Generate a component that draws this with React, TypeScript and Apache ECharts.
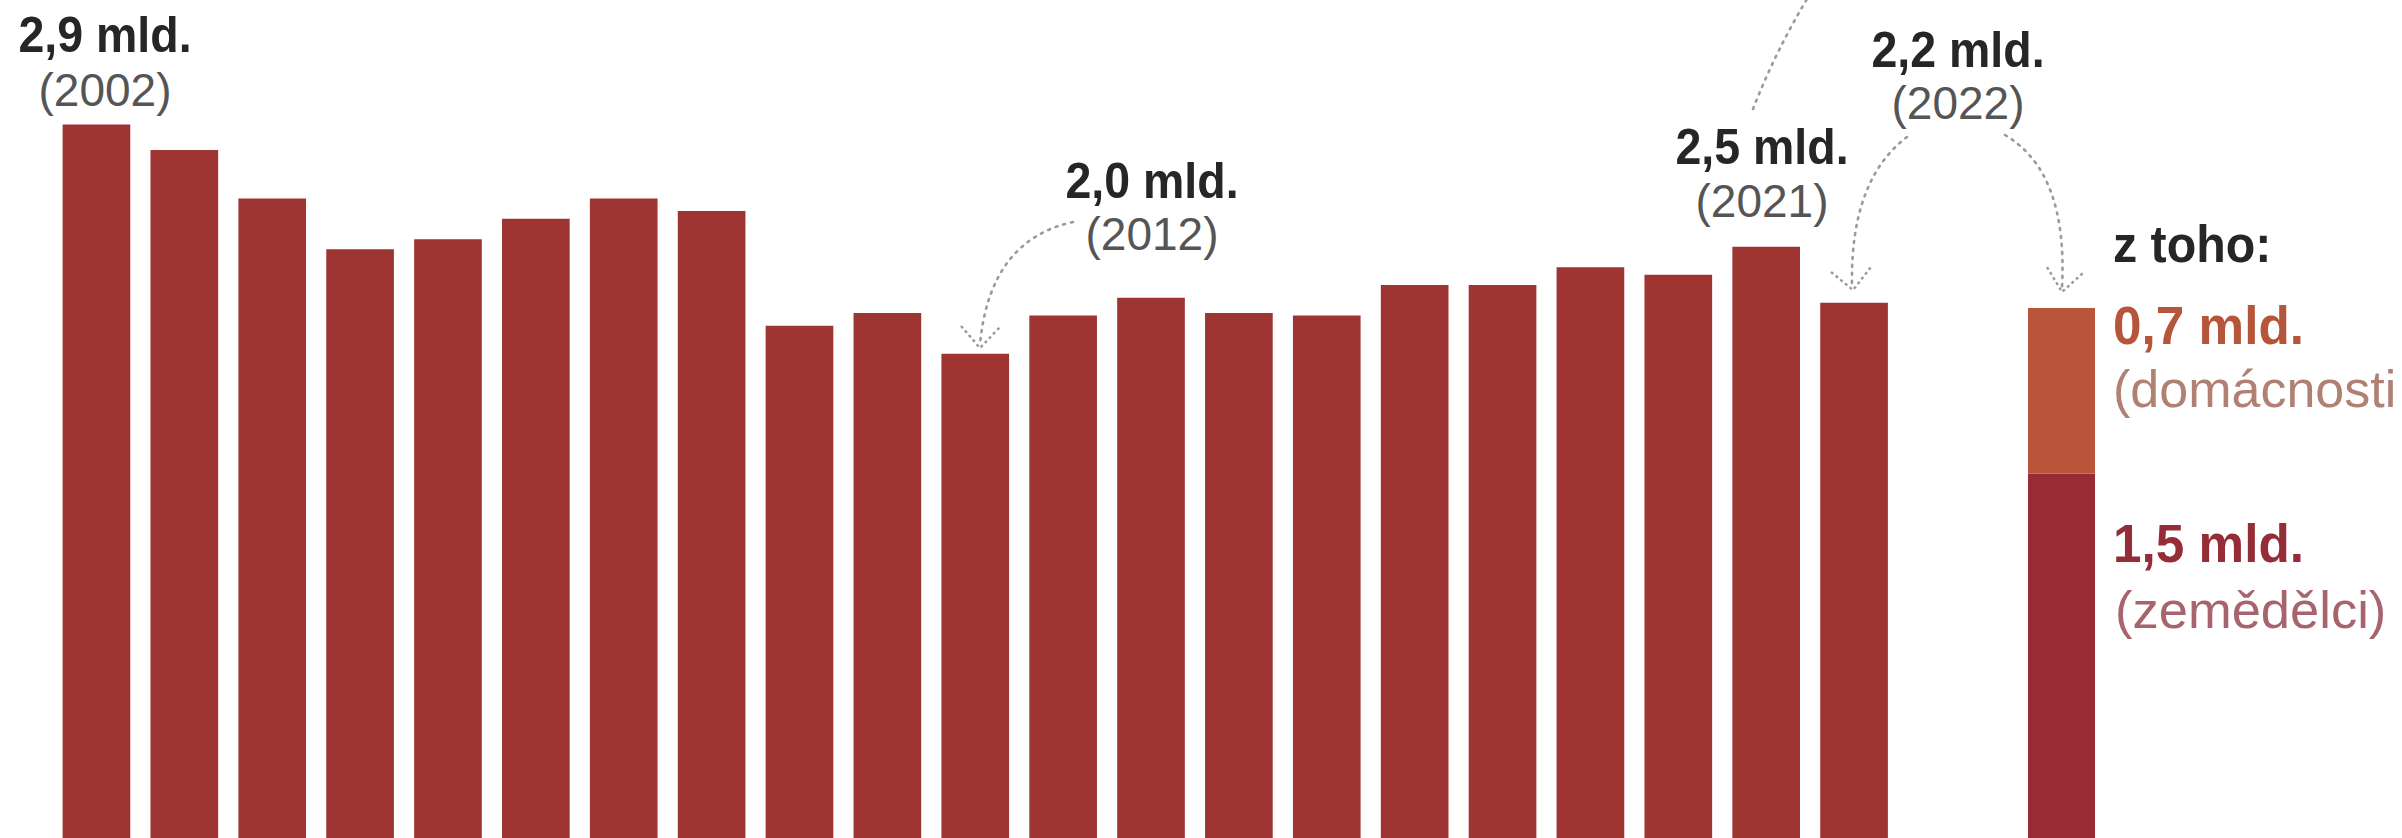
import React, { useEffect, useRef } from "react";
import * as echarts from "echarts";

// ---- data ----
const years = [
  "2002", "2003", "2004", "2005", "2006", "2007", "2008", "2009", "2010", "2011",
  "2012", "2013", "2014", "2015", "2016", "2017", "2018", "2019", "2020", "2021", "2022",
];
const totals = [
  2.90, 2.80, 2.61, 2.41, 2.45, 2.53, 2.61, 2.56, 2.11, 2.16,
  2.00, 2.15, 2.22, 2.16, 2.15, 2.27, 2.27, 2.34, 2.31, 2.42, 2.20,
];
const splitCategory = ["2022"];
const farmers = [1.53]; // zemědělci
const households = [0.65]; // domácnosti

const annotations = [
  { value: "2,9 mld.", year: "(2002)", x: 105, y: 34, yy: 90 },
  { value: "2,0 mld.", year: "(2012)", x: 1152, y: 180, yy: 234 },
  { value: "2,5 mld.", year: "(2021)", x: 1762, y: 146, yy: 201 },
  { value: "2,2 mld.", year: "(2022)", x: 1958, y: 49, yy: 103 },
];

const FONT = "'Liberation Sans', Arial, Helvetica, sans-serif";
const BAR = "#9E3532";
const FARM = "#982B33";
const HOUSE = "#B9553A";
const DOT = "#9a9a9a";

export default function App() {
  const ref = useRef<HTMLDivElement>(null);

  useEffect(() => {
    if (!ref.current) return;
    const chart = echarts.init(ref.current, undefined, { renderer: "svg" });

    const dotted = { stroke: DOT, lineWidth: 2.6, lineDash: [2, 6], lineCap: "round", fill: null };
    const head = { stroke: DOT, lineWidth: 2.4, fill: null, lineDash: [3, 3] };

    const graphic: any[] = [];
    annotations.forEach((a) => {
      graphic.push({
        type: "text", x: a.x, y: a.y, scaleX: 0.93,
        style: { text: a.value, font: `bold 50px ${FONT}`, fill: "#262626", align: "center", verticalAlign: "middle" },
      });
      graphic.push({
        type: "text", x: a.x, y: a.yy,
        style: { text: a.year, font: `46px ${FONT}`, fill: "#555555", align: "center", verticalAlign: "middle" },
      });
    });
    // legend texts
    graphic.push(
      { type: "text", x: 2113, y: 244, scaleX: 0.93, style: { text: "z toho:", font: `bold 52px ${FONT}`, fill: "#262626", align: "left", verticalAlign: "middle" } },
      { type: "text", x: 2113, y: 325, scaleX: 0.95, style: { text: "0,7 mld.", font: `bold 54px ${FONT}`, fill: "#B5553A", align: "left", verticalAlign: "middle" } },
      { type: "text", x: 2113, y: 389, style: { text: "(domácnosti", font: `52px ${FONT}`, fill: "#B08073", align: "left", verticalAlign: "middle" } },
      { type: "text", x: 2113, y: 543, scaleX: 0.95, style: { text: "1,5 mld.", font: `bold 54px ${FONT}`, fill: "#952D38", align: "left", verticalAlign: "middle" } },
      { type: "text", x: 2115, y: 609, style: { text: "(zemědělci)", font: `52.5px ${FONT}`, fill: "#A8646C", align: "left", verticalAlign: "middle" } }
    );
    // arrows
    graphic.push(
      { type: "bezierCurve", shape: { x1: 1073, y1: 222, cpx1: 990, cpy1: 240, x2: 980, y2: 344 }, style: dotted },
      { type: "polyline", shape: { points: [[961, 326], [980, 348], [1000, 327]] }, style: head },
      { type: "bezierCurve", shape: { x1: 1907, y1: 137, cpx1: 1850, cpy1: 180, x2: 1852, y2: 286 }, style: dotted },
      { type: "polyline", shape: { points: [[1831, 272], [1853, 290], [1871, 267]] }, style: head },
      { type: "bezierCurve", shape: { x1: 2005, y1: 135, cpx1: 2068, cpy1: 172, x2: 2062, y2: 287 }, style: dotted },
      { type: "polyline", shape: { points: [[2047, 267], [2062, 292], [2083, 273]] }, style: head },
      { type: "bezierCurve", shape: { x1: 1753, y1: 109, cpx1: 1776, cpy1: 50, x2: 1810, y2: -6 }, style: dotted }
    );

    chart.setOption({
      animation: false,
      backgroundColor: "#ffffff",
      grid: [
        { left: 52.5, width: 1845.5, top: 99, height: 739, outerBoundsMode: "none" },
        { left: 2028, width: 67, top: 99, height: 739, outerBoundsMode: "none" },
      ],
      xAxis: [
        { type: "category", gridIndex: 0, data: years, show: false },
        { type: "category", gridIndex: 1, data: splitCategory, show: false },
      ],
      yAxis: [
        { type: "value", gridIndex: 0, min: 0.1, max: 3, show: false, splitLine: { show: false } },
        { type: "value", gridIndex: 1, min: 0.1, max: 3, show: false, splitLine: { show: false } },
      ],
      series: [
        {
          type: "bar", name: "celkem", xAxisIndex: 0, yAxisIndex: 0, data: totals,
          barCategoryGap: "23%", itemStyle: { color: BAR }, silent: true,
        },
        {
          type: "bar", name: "zemědělci", xAxisIndex: 1, yAxisIndex: 1, data: farmers, stack: "s",
          barWidth: "100%", itemStyle: { color: FARM }, silent: true,
        },
        {
          type: "bar", name: "domácnosti", xAxisIndex: 1, yAxisIndex: 1, data: households, stack: "s",
          barWidth: "100%", itemStyle: { color: HOUSE }, silent: true,
        },
      ],
      graphic,
    });

    return () => chart.dispose();
  }, []);

  return (
    <div
      ref={ref}
      style={{ position: "absolute", left: 0, top: 0, width: 2402, height: 838, background: "#fff" }}
    />
  );
}
